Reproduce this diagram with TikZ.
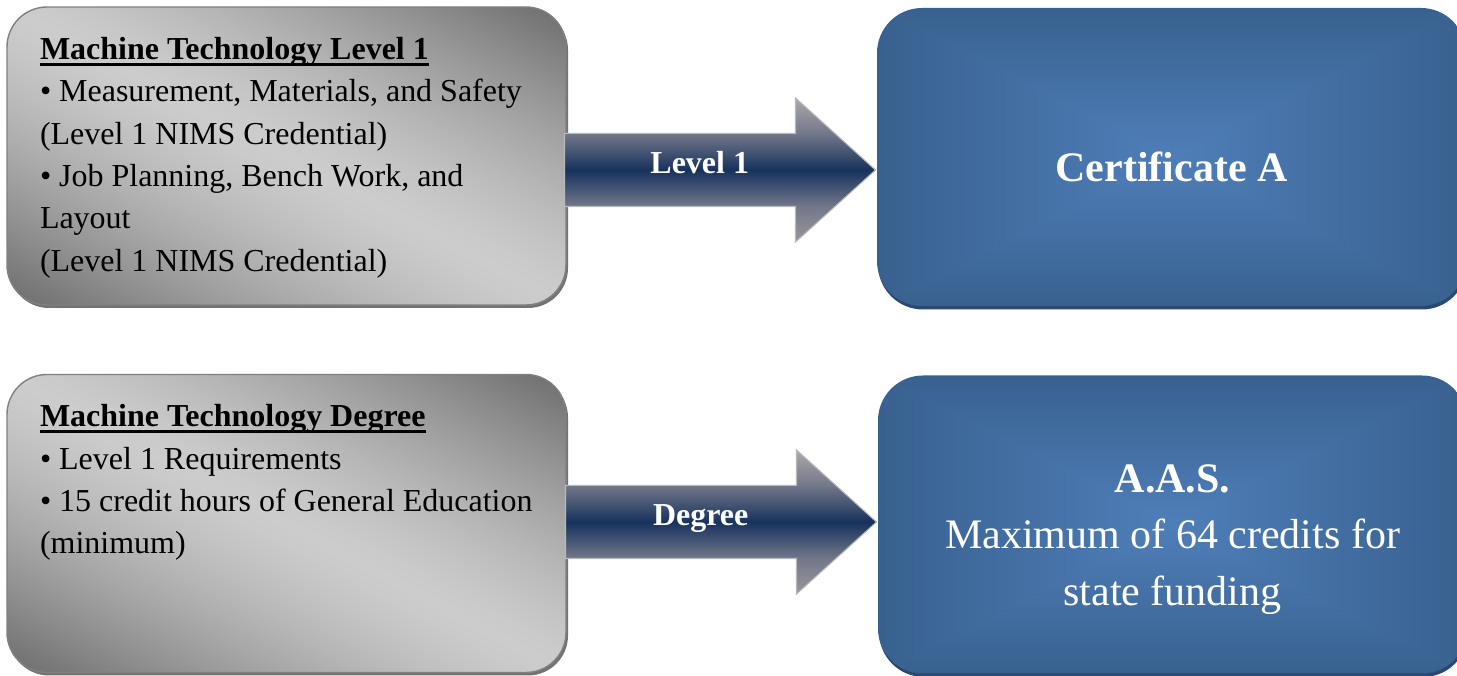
\documentclass[tikz,border=0pt]{standalone}
\usepackage{fontspec}
\setmainfont{Liberation Serif}
\usetikzlibrary{shapes,arrows,positioning,calc,shadows}

\definecolor{blueshadow}{HTML}{2B4870}
\definecolor{navy}{HTML}{17325C}
\definecolor{arrowtop}{HTML}{A9A9AB}
\definecolor{arrowside}{HTML}{72778A}
\definecolor{arrowbot}{HTML}{98989B}

% silver: light along one diagonal, dark towards the other two corners
\pgfdeclarefunctionalshading{silver}{\pgfpoint{0bp}{0bp}}{\pgfpoint{100bp}{100bp}}{}{
  add 100 sub abs 50 div dup 1 gt {pop 1} if 1.4 exp 0.38 mul 0.80 exch sub dup dup
}

% steel: light blue core fading out to the edges in rectangles
\pgfdeclarefunctionalshading{steel}{\pgfpoint{0bp}{0bp}}{\pgfpoint{100bp}{100bp}}{}{
  50 sub abs exch 50 sub abs 2 copy lt {exch} if pop 25 div dup 1 gt {pop 1} if
  dup 0.090 mul 0.310 exch sub exch
  dup 0.114 mul 0.494 exch sub exch
  0.161 mul 0.722 exch sub
}

% dark band along the middle of the arrows
\pgfdeclareverticalshading{arrowband}{100bp}{color(0bp)=(arrowbot); color(25bp)=(arrowbot); color(37.5bp)=(arrowside); color(50bp)=(navy); color(62.5bp)=(arrowside); color(75bp)=(arrowtop); color(100bp)=(arrowtop)}

% bold heading with a heavy underline
\newcommand{\boxhead}[1]{\leavevmode\setbox0\hbox{\textbf{#1}}\rlap{\rule[-0.65mm]{\wd0}{0.3mm}}\box0}

\begin{document}
\begin{tikzpicture}[
  graybox/.style={draw=gray, line width=0.4pt, rounded corners=0.4cm, shading=silver,
    drop shadow={shadow xshift=0.02cm, shadow yshift=-0.03cm, fill=gray!90!black, opacity=1},
    inner xsep=0.33cm, inner ysep=0.3cm, font=\fontsize{9.1}{12.07}\selectfont},
  bluebox/.style={rounded corners=0.45cm, shading=steel,
    minimum width=5.89cm, minimum height=2.98cm, text=white, align=center,
    drop shadow={shadow xshift=0.01cm, shadow yshift=-0.035cm, fill=blueshadow, opacity=1},
    font=\fontsize{11.95}{16.2}\selectfont},
  flow/.style={single arrow, shading=arrowband, draw=gray!55, line width=0.3pt,
    minimum height=3.11cm, minimum width=1.43cm, single arrow head extend=0.355cm,
    single arrow tip angle=84, inner xsep=0pt, inner ysep=0pt,
    text height=0.40cm, text depth=0.32cm, text=white,
    font=\fontsize{9.1}{11}\selectfont\bfseries, anchor=tip}
]

\useasboundingbox (0,0) rectangle (14.57,6.75);

% Level 1 row
\node[graybox] (lvlone) at (2.865,5.19) {\parbox[t][2.38cm][t]{4.93cm}{%
  \boxhead{Machine Technology Level 1}\\
  • Measurement, Materials, and Safety\\
  (Level 1 NIMS Credential)\\
  • Job Planning, Bench Work, and\\
  Layout\\
  (Level 1 NIMS Credential)}};

\node[bluebox] (certa) at (11.715,5.18) {\rule{0pt}{0.49cm}\textbf{Certificate A}};

\node[flow] (flowone) at (certa.west |- 0,5.05) {Level 1};

% Degree row
\node[graybox] (degbox) at (2.865,1.515) {\parbox[t][2.38cm][t]{4.93cm}{%
  \boxhead{Machine Technology Degree}\\
  • Level 1 Requirements\\
  • 15 credit hours of General Education\\
  (minimum)}};

\node[bluebox] (aas) at (11.725,1.505) {\rule{0pt}{0.58cm}\textbf{A.A.S.}\\Maximum of 64 credits for\\state funding};

\node[flow] (flowtwo) at (aas.west |- 0,1.53) {Degree};

\end{tikzpicture}
\end{document}
